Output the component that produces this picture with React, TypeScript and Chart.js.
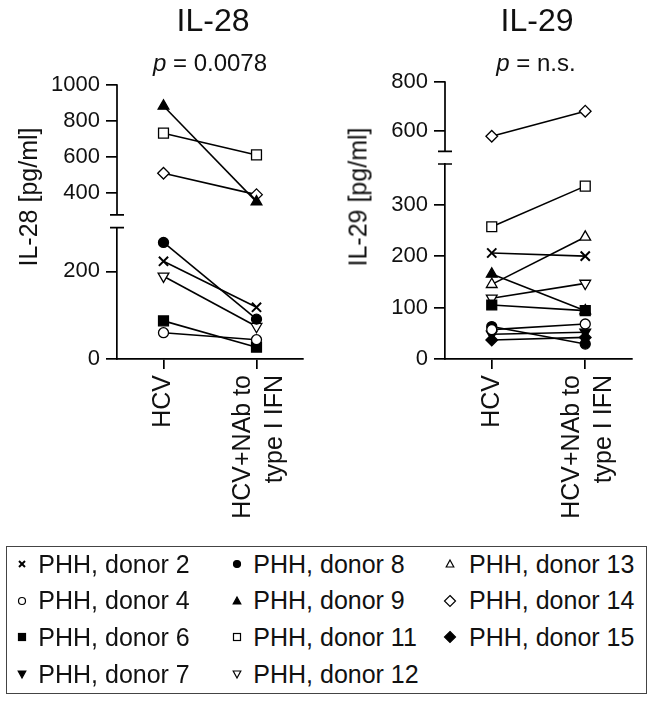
import React, { useEffect, useRef } from 'react';
import { Chart, registerables } from 'chart.js';

Chart.register(...registerables);

const FONT = '"Liberation Sans", Arial, Helvetica, sans-serif';
Chart.defaults.font.family = FONT;

// ---------- data ----------
const conditions: (string | string[])[] = ['HCV', ['HCV+NAb to', 'type I IFN']];
const donors = [
  'PHH, donor 2', 'PHH, donor 4', 'PHH, donor 6', 'PHH, donor 7',
  'PHH, donor 8', 'PHH, donor 9', 'PHH, donor 11', 'PHH, donor 12',
  'PHH, donor 13', 'PHH, donor 14', 'PHH, donor 15',
];
const markerShapes = ['crossRot', 'circle', 'rect', 'triangle', 'circle', 'triangle', 'rect', 'triangle', 'triangle', 'rectRot', 'rectRot'];
const markerFilled = [true, false, true, true, true, true, false, false, false, false, true];
const markerRotation = [0, 0, 0, 180, 0, 0, 0, 180, 0, 0, 0];

const il28HCV = [223, 60, 87, null, 266, 883, 732, 189, null, 509, null];
const il28NAb = [118, 44, 27, null, 91, 350, 611, 74, null, 390, null];
const il29HCV = [206, 57, 105, 48, 63, 165, 257, 118, 145, 577, 37];
const il29NAb = [200, 68, 94, 52, 29, 94, 336, 147, 237, 680, 42];

const il28LowTicks = [0, 200];
const il28HighTicks = [400, 600, 800, 1000];
const il29LowTicks = [0, 100, 200, 300];
const il29HighTicks = [600, 800];

// ---------- styling / layout ----------
const radiusFor: Record<string, number> = { crossRot: 6.5, circle: 5, rect: 7, triangle: 6.2, rectRot: 5.8 };
const AXIS_W = 1.7;
const CANVAS_W = 327;
const CANVAS_H = 530;
const X_AXIS_H = 171;

type Spec = {
  hcv: (number | null)[]; nab: (number | null)[];
  lowMax: number; highMin: number; highMax: number; breakAt: number;
  lowTicks: number[]; highTicks: number[];
  lowWeight: number; highWeight: number;
  padTop: number; padRight: number; axisWidth: number;
};

const il28Spec: Spec = {
  hcv: il28HCV, nab: il28NAb,
  lowMax: 300, highMin: 207, highMax: 1000, breakAt: 278,
  lowTicks: il28LowTicks, highTicks: il28HighTicks,
  lowWeight: 131.6, highWeight: 142.7,
  padTop: 85, padRight: 24, axisWidth: 117,
};
const il29Spec: Spec = {
  hcv: il29HCV, nab: il29NAb,
  lowMax: 379, highMin: 463, highMax: 800, breakAt: 515,
  lowTicks: il29LowTicks, highTicks: il29HighTicks,
  lowWeight: 195, highWeight: 82,
  padTop: 82, padRight: 22, axisWidth: 118,
};

function makeConfig(spec: Spec): any {
  const datasets = donors
    .map((name, i) => {
      const a = spec.hcv[i];
      const b = spec.nab[i];
      if (a == null || b == null) return null;
      const high = Math.min(a, b) > spec.lowMax;
      return {
        label: name,
        data: [a, b],
        yAxisID: high ? 'yHigh' : 'yLow',
        borderColor: '#000',
        borderWidth: 1.6,
        showLine: true,
        tension: 0,
        pointStyle: markerShapes[i],
        pointRotation: markerRotation[i],
        pointRadius: radiusFor[markerShapes[i]],
        pointBackgroundColor: markerFilled[i] ? '#000' : '#fff',
        pointBorderColor: '#000',
        pointBorderWidth: markerShapes[i] === 'crossRot' ? 2 : 1.3,
        clip: false,
      };
    })
    .filter(Boolean);

  const yCommon = (ticks: number[], width: number) => ({
    type: 'linear',
    position: 'left',
    stack: 'y',
    grid: { display: true, drawOnChartArea: false, drawTicks: true, tickLength: 11, color: '#000', lineWidth: AXIS_W },
    ticks: {
      autoSkip: false,
      padding: 6,
      color: '#111',
      font: { family: FONT, size: 22 },
      callback: (v: number) => String(v),
    },
    afterBuildTicks: (s: any) => { s.ticks = ticks.map((v) => ({ value: v })); },
    afterFit: (s: any) => { s.width = width; },
  });

  const breakPlugin = {
    id: 'axisBreak',
    afterDraw(chart: any) {
      const hi = chart.scales.yHigh;
      const lo = chart.scales.yLow;
      const ctx = chart.ctx;
      const x = Math.round(lo.right) ;
      const yBreak = hi.getPixelForValue(spec.breakAt);
      ctx.save();
      ctx.strokeStyle = '#000';
      ctx.lineWidth = AXIS_W;
      ctx.beginPath();
      ctx.moveTo(x, hi.getPixelForValue(spec.highMax) - AXIS_W / 2);
      ctx.lineTo(x, yBreak);
      ctx.moveTo(x - 7, yBreak);
      ctx.lineTo(x + 7, yBreak);
      ctx.moveTo(x - 7, lo.top);
      ctx.lineTo(x + 7, lo.top);
      ctx.stroke();
      ctx.restore();
    },
  };

  const xLabelPlugin = {
    id: 'xLabels',
    afterDraw(chart: any) {
      const sx = chart.scales.x;
      const ctx = chart.ctx;
      const lh = 32;
      ctx.save();
      ctx.font = `25px ${FONT}`;
      ctx.fillStyle = '#111';
      ctx.textAlign = 'right';
      ctx.textBaseline = 'middle';
      conditions.forEach((lab, i) => {
        const lines = Array.isArray(lab) ? lab : [lab];
        const px = sx.getPixelForTick(i);
        const yTop = sx.top + 16;
        lines.forEach((line, k) => {
          const off = (k - (lines.length - 1) / 2) * lh + (lines.length > 1 ? 3 : 0);
          ctx.save();
          ctx.translate(px + off, yTop);
          ctx.rotate(-Math.PI / 2);
          ctx.fillText(line, 0, 0);
          ctx.restore();
        });
      });
      ctx.restore();
    },
  };

  return {
    type: 'line',
    data: { labels: conditions, datasets },
    options: {
      responsive: false,
      animation: false,
      events: [],
      layout: { padding: { top: spec.padTop, right: spec.padRight, bottom: 0, left: 0 } },
      plugins: { legend: { display: false }, tooltip: { enabled: false }, title: { display: false } },
      scales: {
        x: {
          type: 'category',
          offset: true,
          grid: { display: true, drawOnChartArea: false, drawTicks: true, tickLength: 10, color: '#000', lineWidth: AXIS_W, offset: false },
          border: { display: true, color: '#000', width: AXIS_W },
          ticks: { display: false },
          afterFit: (s: any) => { s.height = X_AXIS_H; },
        },
        yLow: {
          ...yCommon(spec.lowTicks, spec.axisWidth),
          weight: 0,
          stackWeight: spec.lowWeight,
          min: 0,
          max: spec.lowMax,
          border: { display: true, color: '#000', width: AXIS_W },
        },
        yHigh: {
          ...yCommon(spec.highTicks, spec.axisWidth),
          weight: 1,
          stackWeight: spec.highWeight,
          min: spec.highMin,
          max: spec.highMax,
          border: { display: false },
        },
      },
    },
    plugins: [breakPlugin, xLabelPlugin],
  };
}

function Panel({ spec, left }: { spec: Spec; left: number }) {
  const ref = useRef<HTMLCanvasElement>(null);
  useEffect(() => {
    if (!ref.current) return;
    const chart = new Chart(ref.current, makeConfig(spec));
    return () => chart.destroy();
  }, [spec]);
  return (
    <canvas
      ref={ref}
      width={CANVAS_W}
      height={CANVAS_H}
      style={{ position: 'absolute', left, top: 0, width: CANVAS_W, height: CANVAS_H }}
    />
  );
}

function LegendSymbol({ i, cx, cy }: { i: number; cx: number; cy: number }) {
  const shape = markerShapes[i];
  const fill = markerFilled[i] ? '#000' : '#fff';
  const common = { stroke: '#000', strokeWidth: 1.2, fill };
  let el: any = null;
  if (shape === 'crossRot') {
    el = (
      <g stroke="#000" strokeWidth={2}>
        <line x1={-3} y1={-3} x2={3} y2={3} />
        <line x1={-3} y1={3} x2={3} y2={-3} />
      </g>
    );
  } else if (shape === 'circle') {
    el = <circle r={3.5} {...common} />;
  } else if (shape === 'rect') {
    el = <rect x={-3.5} y={-3.5} width={7} height={7} {...common} />;
  } else if (shape === 'triangle') {
    el = <polygon points="0,-4 3.8,3 -3.8,3" transform={markerRotation[i] ? 'rotate(180)' : undefined} {...common} />;
  } else if (shape === 'rectRot') {
    el = <polygon points="0,-5.5 5.5,0 0,5.5 -5.5,0" {...common} />;
  }
  return (
    <svg width={16} height={16} viewBox="-8 -8 16 16" style={{ position: 'absolute', left: cx - 8, top: cy - 8 }}>
      {el}
    </svg>
  );
}

const legendSymbolX = [21.7, 236.7, 450];
const legendTextX = [38.3, 253.3, 469];
const legendRowY0 = 564;
const legendRowStep = 36.6;
const LEGEND_FONT = 25;

export default function App() {
  const textBase: React.CSSProperties = {
    position: 'absolute',
    fontFamily: FONT,
    color: '#111',
    lineHeight: 1,
    whiteSpace: 'nowrap',
  };
  return (
    <div style={{ position: 'absolute', left: 0, top: 0, width: 654, height: 701, background: '#fff', overflow: 'hidden' }}>
      <Panel spec={il28Spec} left={0} />
      <Panel spec={il29Spec} left={327} />

      <div style={{ ...textBase, left: 213, top: 4, fontSize: 32, transform: 'translateX(-50%)' }}>IL-28</div>
      <div style={{ ...textBase, left: 210, top: 51, fontSize: 24, transform: 'translateX(-50%)' }}>
        <i>p</i> = 0.0078
      </div>
      <div style={{ ...textBase, left: 537, top: 4, fontSize: 32, transform: 'translateX(-50%)' }}>IL-29</div>
      <div style={{ ...textBase, left: 536, top: 51, fontSize: 24, transform: 'translateX(-50%)' }}>
        <i>p</i> = n.s.
      </div>

      <div style={{ ...textBase, left: 28, top: 197, fontSize: 25, transform: 'translate(-50%, -50%) rotate(-90deg)' }}>
        IL-28 [pg/ml]
      </div>
      <div style={{ ...textBase, left: 358, top: 197, fontSize: 25, transform: 'translate(-50%, -50%) rotate(-90deg)' }}>
        IL-29 [pg/ml]
      </div>

      <div
        style={{
          position: 'absolute', left: 6, top: 546, width: 641, height: 148,
          border: '1.5px solid #444', boxSizing: 'border-box',
        }}
      />
      {donors.map((name, i) => {
        const col = Math.floor(i / 4);
        const row = i % 4;
        const cy = legendRowY0 + row * legendRowStep;
        return (
          <React.Fragment key={name}>
            <LegendSymbol i={i} cx={legendSymbolX[col]} cy={cy} />
            <div style={{ ...textBase, left: legendTextX[col], top: cy - 0.4885 * LEGEND_FONT, fontSize: LEGEND_FONT }}>
              {name}
            </div>
          </React.Fragment>
        );
      })}
    </div>
  );
}
